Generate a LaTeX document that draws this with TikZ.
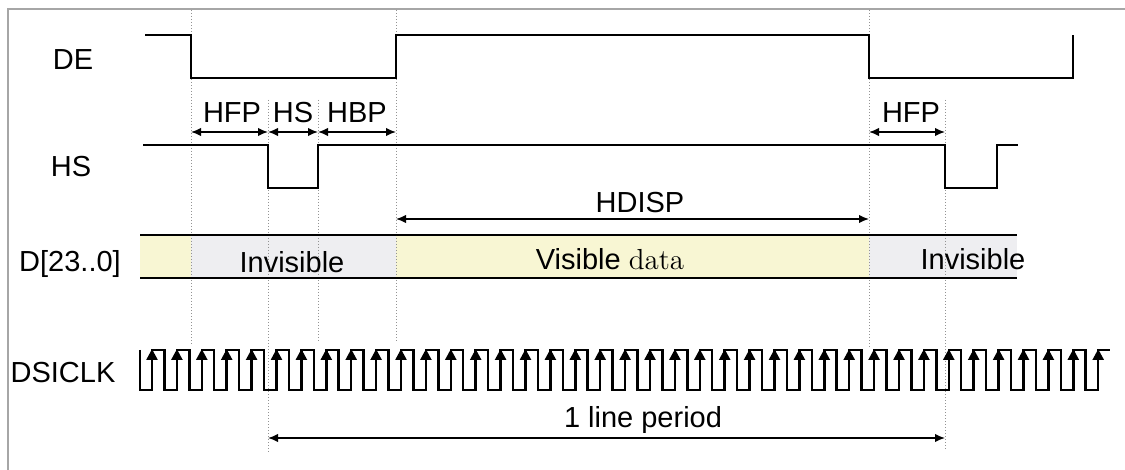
\documentclass[tikz,border=0pt]{standalone}
\usepackage{fontspec}
\setsansfont{Liberation Sans}
\usetikzlibrary{arrows.meta, math}

\definecolor{visfill}{HTML}{F8F6D3}
\definecolor{invfill}{HTML}{EEEEF1}

\begin{document}
\begin{tikzpicture}[x=0.5pt, y=-0.5pt,
    signal/.style={line width=1.25pt, line join=miter},
    marker/.style={densely dotted, gray!85, line width=0.5pt},
    span/.style={arrows={Latex[length=5pt,width=4.2pt]-Latex[length=5pt,width=4.2pt]}, line width=0.75pt},
    tick/.style={-{Triangle[length=5.5pt,width=5.5pt]}, line width=1.25pt},
    label/.style={font=\sffamily\fontsize{14.5}{17}\selectfont, anchor=base, inner sep=0pt}]
  \useasboundingbox (0,0) rectangle (1125,470);
  % frame (only top and left edges show)
  \draw [gray!70, line width=0.8pt] (8,470) -- (8,9) -- (1125,9);
  % draw fills so lines sit on top of them
  \fill [visfill] (140,235) rectangle (191,278);
  \fill [invfill] (191,235) rectangle (396,278);
  \fill [visfill] (396,235) rectangle (869,278);
  \fill [invfill] (869,235) rectangle (1017,278);
  % Draw timing markers
  \draw [marker] (191,10) -- (191,345);
  \draw [marker] (268,100) -- (268,453);
  \draw [marker] (318,100) -- (318,343);
  \draw [marker] (396,10) -- (396,343);
  \draw [marker] (869,10) -- (869,347);
  \draw [marker] (945,100) -- (945,450);
  % DE
  \draw [signal] (145,35) -- (191,35) -- (191,78) -- (396,78) -- (396,35)
    -- (869,35) -- (869,78) -- (1073,78) -- (1073,35);
  % HS
  \draw [signal] (143,145) -- (268,145) -- (268,188) -- (318,188) -- (318,145)
    -- (945,145) -- (945,188) -- (997,188) -- (997,145) -- (1018,145);
  % D[23..0] bus edges
  \draw [line width=1pt] (140,235) -- (1017,235);
  \draw [line width=1pt] (140,278) -- (1017,278);
  % DSICLK: 39 rising edges
  \draw [signal] (140,350) -- (140,390)
    \foreach \k in {0,...,37} { -- ({152+24.9*\k},390) -- ++(0,-40) -- ++(12.4,0) -- ++(0,40) }
    -- (1098,390) -- (1098,350) -- (1110,350);
  \foreach \k in {0,...,38}
    \draw [tick] ({152+24.9*\k},372) -- ({152+24.9*\k},349);
  % Add span arrows
  \draw [span] (191,132) -- (268,132);
  \draw [span] (268,132) -- (318,132);
  \draw [span] (318,132) -- (396,132);
  \draw [span] (869,132) -- (945,132);
  \draw [span] (396,219) -- (869,219);
  \draw [span] (268,438) -- (945,438);
  % Add signal labels
  \node [label] (de) at (73,70) {DE};
  \node [label] (hs) at (71,177) {HS};
  \node [label] (dbus) at (70,272) {D[23..0]};
  \node [label] (clk) at (63,383) {DSICLK};
  % Add span labels
  \node [label] (hfpa) at (232,123) {HFP};
  \node [label] (hsw) at (293,123) {HS};
  \node [label] (hbp) at (357,123) {HBP};
  \node [label] (hfpb) at (911,123) {HFP};
  \node [label] (hdisp) at (640,213) {HDISP};
  \node [label] (line) at (643,428) {1 line period};
  % Add data labels
  \node [label] (inva) at (292,273) {Invisible};
  \node [label] (vis) at (610,270) {Visible {\rmfamily data}};
  \node [label] (invb) at (973,270) {Invisible};
\end{tikzpicture}
\end{document}
